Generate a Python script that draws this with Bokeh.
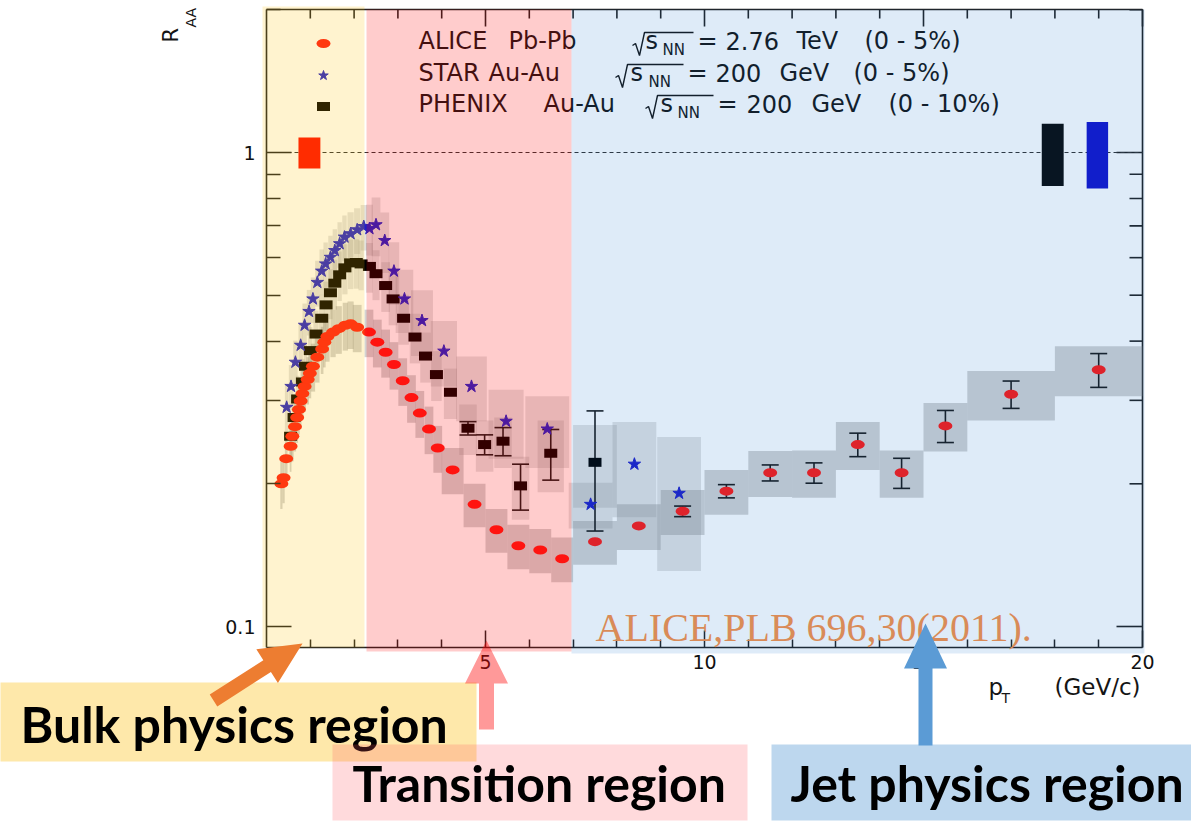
import math
from bokeh.plotting import figure
from bokeh.models import Range1d, FixedTicker, ColumnDataSource, CustomJSTickFormatter
from bokeh.core.properties import value
from bokeh.embed import file_html
from bokeh.resources import INLINE

# ---------------- data ----------------
alice_pt = [0.34, 0.39, 0.45, 0.55, 0.59, 0.65, 0.70, 0.74, 0.78, 0.82,
            0.87, 0.94, 0.99, 1.06, 1.16, 1.27, 1.32, 1.39, 1.52, 1.65,
            1.80, 1.92, 2.07, 2.34, 2.53, 2.72, 2.91, 3.11, 3.31, 3.50,
            3.71, 3.91, 4.25, 4.75, 5.25, 5.75, 6.25, 6.75, 7.5, 8.5,
            9.5, 10.5, 11.5, 12.5, 13.5, 14.5, 15.5, 17.0, 19.0]
alice_raa = [0.200, 0.206, 0.226, 0.240, 0.252, 0.264, 0.276, 0.287, 0.299, 0.310,
             0.321, 0.332, 0.342, 0.354, 0.370, 0.385, 0.398, 0.409, 0.418, 0.425,
             0.432, 0.435, 0.428, 0.418, 0.398, 0.379, 0.357, 0.330, 0.304, 0.282,
             0.261, 0.238, 0.214, 0.181, 0.160, 0.148, 0.145, 0.139, 0.151, 0.163,
             0.175, 0.193, 0.211, 0.211, 0.242, 0.211, 0.265, 0.309, 0.348]
alice_sys = [0.023, 0.024, 0.026, 0.028, 0.029, 0.030, 0.032, 0.033, 0.034, 0.036,
             0.037, 0.038, 0.039, 0.041, 0.043, 0.044, 0.046, 0.047, 0.048, 0.049,
             0.050, 0.050, 0.049, 0.048, 0.046, 0.044, 0.041, 0.038, 0.035, 0.032,
             0.030, 0.027, 0.024, 0.019, 0.017, 0.016, 0.0155, 0.015, 0.016, 0.018,
             0.019, 0.021, 0.0235, 0.024, 0.028, 0.024, 0.031, 0.037, 0.042]
alice_stat = [0, 0, 0, 0, 0, 0, 0, 0, 0, 0,
              0, 0, 0, 0, 0, 0, 0, 0, 0, 0,
              0, 0, 0, 0, 0, 0, 0, 0, 0, 0,
              0, 0, 0, 0, 0, 0, 0, 0, 0, 0,
              0.0045, 0.0062, 0.0082, 0.0104, 0.0138, 0.0154, 0.0206, 0.0205, 0.0285]
alice_binhw = [0.025, 0.025, 0.03, 0.02, 0.03, 0.025, 0.02, 0.02, 0.02, 0.025,
               0.03, 0.03, 0.03, 0.05, 0.05, 0.03, 0.03, 0.05, 0.06, 0.07,
               0.06, 0.07, 0.1, 0.1, 0.1, 0.1, 0.1, 0.1, 0.1, 0.1,
               0.1, 0.1, 0.25, 0.25, 0.25, 0.25, 0.25, 0.25, 0.5, 0.5,
               0.5, 0.5, 0.5, 0.5, 0.5, 0.5, 0.5, 1.0, 1.0]

star_pt = [0.46, 0.56, 0.66, 0.78, 0.87, 0.97, 1.06, 1.16, 1.26, 1.35,
           1.46, 1.56, 1.67, 1.78, 1.92, 2.07, 2.22, 2.35, 2.50, 2.70,
           2.91, 3.15, 3.55, 4.05, 4.68, 5.47, 6.41, 7.40, 8.40, 9.42]
star_raa = [0.290, 0.321, 0.361, 0.392, 0.432, 0.462, 0.491, 0.532, 0.562, 0.582,
            0.601, 0.621, 0.642, 0.663, 0.674, 0.687, 0.698, 0.691, 0.704, 0.652,
            0.562, 0.491, 0.442, 0.381, 0.321, 0.271, 0.261, 0.181, 0.220, 0.191]
star_sys = [0.032, 0.035, 0.040, 0.043, 0.048, 0.051, 0.054, 0.059, 0.062, 0.064,
            0.066, 0.068, 0.071, 0.073, 0.074, 0.076, 0.077, 0.085, 0.100, 0.095,
            0.085, 0.075, 0.070, 0.060, 0.050, 0.045, 0.045, 0.020, 0.050, 0.060]
star_binhw = [0.04, 0.05, 0.05, 0.05, 0.05, 0.05, 0.05, 0.05, 0.05, 0.05,
              0.05, 0.05, 0.05, 0.05, 0.07, 0.07, 0.07, 0.08, 0.1, 0.1,
              0.12, 0.2, 0.25, 0.3, 0.35, 0.4, 0.5, 0.5, 0.5, 0.5]

phenix_pt = [0.55, 0.63, 0.71, 0.82, 0.89, 1.00, 1.13, 1.26, 1.36, 1.46,
             1.56, 1.67, 1.79, 1.92, 2.05, 2.16, 2.35, 2.50, 2.72, 2.89,
             3.13, 3.39, 3.63, 3.88, 4.20, 4.60, 4.98, 5.40, 5.80, 6.49, 7.50]
phenix_raa = [0.252, 0.276, 0.302, 0.328, 0.354, 0.382, 0.414, 0.447, 0.477, 0.506,
              0.530, 0.552, 0.571, 0.585, 0.586, 0.582, 0.575, 0.555, 0.524, 0.491,
              0.447, 0.408, 0.372, 0.340, 0.312, 0.262, 0.242, 0.246, 0.198, 0.232, 0.222]
phenix_stat = [0, 0, 0, 0, 0, 0, 0, 0, 0, 0,
               0, 0, 0, 0, 0, 0, 0, 0, 0, 0,
               0, 0, 0, 0, 0, 0.0085, 0.0117, 0.0168, 0.022, 0.0284, 0.063]
phenix_sys = [0.030, 0.033, 0.036, 0.039, 0.042, 0.046, 0.050, 0.054, 0.057, 0.061,
              0.064, 0.066, 0.069, 0.070, 0.070, 0.070, 0.069, 0.067, 0.063, 0.059,
              0.054, 0.049, 0.045, 0.041, 0.038, 0.032, 0.030, 0.030, 0.030, 0.040, 0.044]
phenix_binhw = [0.04, 0.04, 0.04, 0.05, 0.04, 0.05, 0.06, 0.06, 0.05, 0.05,
                0.05, 0.05, 0.06, 0.06, 0.06, 0.06, 0.08, 0.08, 0.1, 0.1,
                0.12, 0.12, 0.12, 0.12, 0.15, 0.2, 0.2, 0.2, 0.2, 0.3, 0.5]

# normalisation uncertainties drawn at R_AA = 1 (ALICE, PHENIX, STAR)
norm_pt = [0.98, 17.95, 18.97]
norm_hw = [0.25, 0.25, 0.245]
norm_err = [0.075, 0.15, 0.16]

x_major = [5, 10, 15, 20]
x_minor = [1, 2, 3, 4, 6, 7, 8, 9, 11, 12, 13, 14, 16, 17, 18, 19]
y_major = [0.1, 1]
y_minor = [0.2, 0.3, 0.4, 0.5, 0.6, 0.7, 0.8, 0.9, 2]

legend_words = [
    [("ALICE", 418), ("Pb-Pb", 508)],
    [("STAR", 418), ("Au-Au", 488)],
    [("PHENIX", 418), ("Au-Au", 543)],
]
legend_energy = [
    [("=", 697), ("2.76", 725), ("TeV", 796), ("(0 - 5%)", 864)],
    [("=", 687), ("200", 715), ("GeV", 779), ("(0 - 5%)", 853)],
    [("=", 717), ("200", 746), ("GeV", 811), ("(0 - 10%)", 888)],
]
citation = "ALICE,PLB 696,30(2011)."
region_names = ["Bulk physics region", "Transition region", "Jet physics region"]

# ---------------- geometry (canvas pixels -> data) ----------------
W, H = 1191, 822
FL, FR, FT, FB = 266, 1142, 9, 647          # the chart box inside the canvas
X0, X1 = 0.0, 20.0
PXDEC = 474.0                                # pixels per decade of R_AA
Y_TOP = 10 ** ((152 - FT) / PXDEC)
Y_BOT = 10 ** ((152 - FB) / PXDEC)


def X(px):
    return X0 + (px - FL) * (X1 - X0) / (FR - FL)


def Y(py):
    return 10 ** ((152 - py) / PXDEC)


p = figure(width=W, height=H, x_range=Range1d(X(0), X(W)), y_range=Range1d(Y(H), Y(0)),
           y_axis_type="log", output_backend="svg", toolbar_location=None, title=None,
           min_border=0, min_border_left=0, min_border_right=0, min_border_top=0,
           min_border_bottom=0)
p.outline_line_color = None
p.xgrid.visible = False
p.ygrid.visible = False
p.background_fill_color = "white"
p.border_fill_color = "white"

AX = "#222222"
TICKFONT = "DejaVu Sans"


def style_axis(ax, tin, tmin):
    ax.axis_line_color = AX
    ax.axis_line_width = 1.6
    ax.major_tick_line_color = AX
    ax.minor_tick_line_color = AX
    ax.major_tick_line_width = 1.5
    ax.minor_tick_line_width = 1.5
    ax.major_tick_in = tin
    ax.major_tick_out = 0
    ax.minor_tick_in = tmin
    ax.minor_tick_out = 0
    ax.major_label_text_font = TICKFONT
    ax.major_label_text_font_size = "19px"
    ax.major_label_text_color = "#111111"


xa = p.xaxis[0]
xa.ticker = FixedTicker(ticks=x_major, minor_ticks=x_minor)
xa.fixed_location = Y_BOT
xa.bounds = (X0, X1)
style_axis(xa, 17, 8)
xa.major_label_standoff = 7

ya = p.yaxis[0]
ya.ticker = FixedTicker(ticks=y_major, minor_ticks=y_minor)
ya.formatter = CustomJSTickFormatter(code="return tick.toString()")
ya.fixed_location = X0
ya.bounds = (Y_BOT, Y_TOP)
style_axis(ya, 25, 14)
ya.major_label_standoff = 11

# top and right frame edges with mirrored ticks
tx0, tx1, ty0, ty1 = [X0, X1], [X1, X1], [Y_TOP, Y_BOT], [Y_TOP, Y_TOP]
for t in x_major + x_minor:
    ln = 17 if t in x_major else 9
    tx0.append(t); tx1.append(t); ty0.append(Y_TOP); ty1.append(Y(FT + ln))
for t in y_major + y_minor:
    if t >= Y_TOP:
        continue
    ln = 26 if t in y_major else 13
    tx0.append(X1); tx1.append(X(FR - ln)); ty0.append(t); ty1.append(t)
p.segment(x0=tx0, y0=ty0, x1=tx1, y1=ty1, line_color=AX, line_width=1.6)

# dashed line at R_AA = 1
p.line(x=[X0, X1], y=[1, 1], line_color="#333333", line_dash="4 3", line_width=1)


def box_source(pt, raa, err, hw):
    return ColumnDataSource(dict(
        left=[a - h for a, h in zip(pt, hw)], right=[a + h for a, h in zip(pt, hw)],
        top=[r + e for r, e in zip(raa, err)], bottom=[r - e for r, e in zip(raa, err)]))


# systematic boxes
for pt, raa, err, hw, alpha in [(phenix_pt, phenix_raa, phenix_sys, phenix_binhw, 0.24),
                                (star_pt, star_raa, star_sys, star_binhw, 0.24),
                                (alice_pt, alice_raa, alice_sys, alice_binhw, 0.38)]:
    p.quad(source=box_source(pt, raa, err, hw), left="left", right="right", top="top",
           bottom="bottom", fill_color="#8c8c8c", fill_alpha=alpha, line_color=None)

# normalisation boxes
norm_colors = ["#FF0A00", "#0a0a0a", "#1414CC"]
p.quad(left=[a - h for a, h in zip(norm_pt, norm_hw)], right=[a + h for a, h in zip(norm_pt, norm_hw)],
       top=[1 + e for e in norm_err], bottom=[1 - e for e in norm_err],
       fill_color=norm_colors, line_color=None)


def error_bars(pt, raa, stat):
    xs = [a for a, s in zip(pt, stat) if s > 0]
    lo = [r - s for r, s in zip(raa, stat) if s > 0]
    hi = [r + s for r, s in zip(raa, stat) if s > 0]
    p.segment(x0=xs, y0=lo, x1=xs, y1=hi, line_color="#1a1a1a", line_width=1.6)
    p.scatter(x=xs + xs, y=lo + hi, marker="dash", size=17, line_color="#1a1a1a", line_width=1.6)


error_bars(phenix_pt, phenix_raa, phenix_stat)
error_bars(alice_pt, alice_raa, alice_stat)

# markers
p.rect(x=phenix_pt, y=phenix_raa, width=13, height=9, width_units="screen",
       height_units="screen", fill_color="#000000", line_color=None)
p.scatter(x=star_pt, y=star_raa, marker="star", size=13, fill_color="#2020C8",
          line_color="#2020C8")
p.ellipse(x=alice_pt, y=alice_raa, width=14, height=9, width_units="screen",
          height_units="screen", fill_color="#FF1A14", line_color=None)

# legend markers
p.ellipse(x=[X(323)], y=[Y(43)], width=14, height=9, width_units="screen",
          height_units="screen", fill_color="#FF1A14", line_color=None)
p.scatter(x=[X(323)], y=[Y(75)], marker="star", size=10, fill_color="#2020C8", line_color="#2020C8")
p.rect(x=[X(323)], y=[Y(106)], width=13, height=9, width_units="screen",
       height_units="screen", fill_color="#000000", line_color=None)


def text(px, py, s, size, font="DejaVu Sans", color="#151515", style="normal",
         align="left", angle=0.0, level="glyph", cap=0.36):
    # (px, py) is the baseline point; the glyph is anchored on the middle of the capitals
    if angle:
        px, py = px - cap * size, py
    else:
        py = py - cap * size
    p.text(x=[X(px)], y=[Y(py)], text=[s], text_font=value(font), text_font_size=f"{size}px",
           text_color=color, text_font_style=style, text_align=align,
           text_baseline="middle", angle=angle, level=level)


LEG_BASE = [49, 81, 112]
LEG_RAD = [(632, 645, 662), (615, 630, 648), (645, 660, 677)]
for i in range(3):
    base = LEG_BASE[i]
    for word, px in legend_words[i]:
        text(px, base, word, 24)
    rx, sx, nx = LEG_RAD[i]
    eq_x = legend_energy[i][0][1]
    xs = [rx, rx + 3, rx + 7, rx + 12, eq_x - 4]
    ys = [base - 4, base - 6, base + 6, base - 17, base - 17]
    p.line(x=[X(v) for v in xs], y=[Y(v) for v in ys], line_color="#151515", line_width=1.4)
    text(sx, base, "s", 24)
    text(nx, base + 6, "NN", 15)
    for word, px in legend_energy[i]:
        text(px, base, word, 24)

# axis titles
text(178, 42, "R", 21, angle=math.pi / 2)
text(196, 27, "AA", 14, angle=math.pi / 2)
text(988, 695, "p", 23)
text(1001, 703, "T", 14)
text(1140, 695, "(GeV/c)", 23, align="right")

# coloured physics regions (semi-transparent, drawn on top of the chart)
region_px = [(262, 364, 6, 647), (366, 571, 9, 651), (571, 1144, 9, 653)]
region_tint = ["#FFC000", "#FF0000", "#0064C8"]
region_alpha = [0.19, 0.2, 0.13]
p.quad(left=[X(a[0]) for a in region_px], right=[X(a[1]) for a in region_px],
       top=[Y(a[2]) for a in region_px], bottom=[Y(a[3]) for a in region_px],
       fill_color=region_tint, fill_alpha=region_alpha, line_color=None, level="overlay")

text(595, 640, citation, 40, font="Liberation Serif", color="#D98B58", level="overlay", cap=0.33)

# region labels below the chart
label_box_px = [(0, 476, 682, 761), (332, 747, 744, 820), (771, 1191, 744, 820)]
label_box_color = ["#FEE8AA", "#FF555E", "#BDD7EE"]
label_box_alpha = [1.0, 0.22, 1.0]
label_text_px = [(20, 741), (352, 800), (790, 800)]
for i in range(3):
    l, r, t, b = label_box_px[i]
    p.quad(left=[X(l)], right=[X(r)], top=[Y(t)], bottom=[Y(b)], fill_color=label_box_color[i],
           fill_alpha=label_box_alpha[i], line_color=None, level="overlay")
    text(label_text_px[i][0], label_text_px[i][1], region_names[i], 50, font="Lato",
         color="#000000", style="bold", level="overlay", cap=0.35)


def arrow(x0, y0, x1, y1, shaft, head_w, head_len, color, alpha):
    dx, dy = x1 - x0, y1 - y0
    L = math.hypot(dx, dy)
    ux, uy = dx / L, dy / L
    nx, ny = -uy, ux
    bx, by = x1 - ux * head_len, y1 - uy * head_len
    pts = [(x0 + nx * shaft / 2, y0 + ny * shaft / 2), (bx + nx * shaft / 2, by + ny * shaft / 2),
           (bx + nx * head_w / 2, by + ny * head_w / 2), (x1, y1),
           (bx - nx * head_w / 2, by - ny * head_w / 2), (bx - nx * shaft / 2, by - ny * shaft / 2),
           (x0 - nx * shaft / 2, y0 - ny * shaft / 2)]
    p.patch(x=[X(a) for a, _ in pts], y=[Y(b) for _, b in pts], fill_color=color,
            fill_alpha=alpha, line_color=None, level="overlay")


arrow(213, 700, 302, 643, 14, 40, 42, "#ED7D31", 1.0)
arrow(486, 729, 486, 640, 15, 43, 43, "#FF0000", 0.4)
arrow(925, 745, 925, 623, 14, 43, 45, "#5B9BD5", 1.0)

open("out.html", "w").write(file_html(p, INLINE))
